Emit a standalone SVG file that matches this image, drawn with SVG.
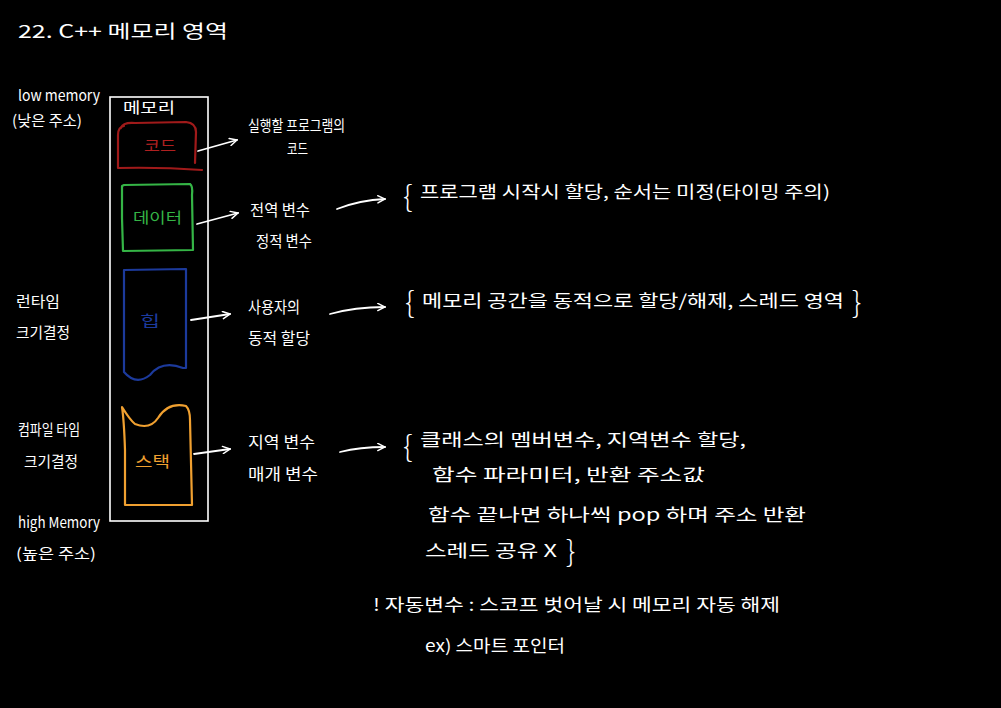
<svg xmlns="http://www.w3.org/2000/svg" width="1001" height="708" viewBox="0 0 1001 708">
<defs>
<style>
text{font-family:"Noto Sans CJK KR","Noto Sans",sans-serif;fill:#fff;font-size:17px}
.t{font-size:18px}
.s{font-size:15px}
.d{font-size:16px}
.br{font-size:30px;font-weight:300}
.ln{fill:none;stroke:#fff;stroke-width:1.8;stroke-linecap:round;stroke-linejoin:round}
.red{fill:none;stroke:#a01a1a;stroke-width:2.2;stroke-linecap:round;stroke-linejoin:round}
.grn{fill:none;stroke:#35b546;stroke-width:2.2;stroke-linecap:round;stroke-linejoin:round}
.blu{fill:none;stroke:#1c3a9c;stroke-width:2.2;stroke-linecap:round;stroke-linejoin:round}
.org{fill:none;stroke:#f0a030;stroke-width:2.2;stroke-linecap:round;stroke-linejoin:round}
</style>
<marker id="ah" viewBox="0 0 10 10" refX="9" refY="5" markerWidth="9" markerHeight="9" orient="auto" markerUnits="userSpaceOnUse">
<polyline points="1,1 9,5 1,9" fill="none" stroke="#fff" stroke-width="1.6" stroke-linecap="round"/>
</marker>
</defs>
<rect width="1001" height="708" fill="#000"/>

<g id="title"><text class="t" x="18" y="38" textLength="210" lengthAdjust="spacingAndGlyphs">22. C++ 메모리 영역</text></g>

<g id="left-labels">
<text class="s" x="18" y="101" textLength="82" lengthAdjust="spacingAndGlyphs">low memory</text>
<text class="s" x="12" y="126" textLength="70" lengthAdjust="spacingAndGlyphs">(낮은 주소)</text>
<text class="s" x="16" y="307" textLength="44" lengthAdjust="spacingAndGlyphs">런타임</text>
<text class="s" x="16" y="338" textLength="54" lengthAdjust="spacingAndGlyphs">크기결정</text>
<text class="s" x="18" y="435" textLength="62" lengthAdjust="spacingAndGlyphs">컴파일 타임</text>
<text class="s" x="24" y="467" textLength="54" lengthAdjust="spacingAndGlyphs">크기결정</text>
<text class="s" x="18" y="528" textLength="82" lengthAdjust="spacingAndGlyphs">high Memory</text>
<text class="s" x="16" y="559" textLength="80" lengthAdjust="spacingAndGlyphs">(높은 주소)</text>
</g>

<g id="memory">
<rect x="110" y="97" width="98" height="424" fill="none" stroke="#fff" stroke-width="1.6"/>
<text class="s" x="123" y="113" textLength="52" lengthAdjust="spacingAndGlyphs">메모리</text>
</g>

<g id="code">
<path class="red" d="M121,128 Q123,122 135,123 L186,122 Q196,123 196,132 L195,163 M118,168 L118,135 Q118,127 124,126 M118,168 Q160,167 202,170"/>
<text class="s" x="144" y="151" style="fill:#b02020" textLength="32" lengthAdjust="spacingAndGlyphs">코드</text>
</g>

<g id="data">
<path class="grn" d="M124,185 L190,184 Q193,186 192,195 L193,250 L123,251 L122,218 L122,186 Z"/>
<text class="s" x="133" y="223" style="fill:#35b546" textLength="49" lengthAdjust="spacingAndGlyphs">데이터</text>
</g>

<g id="heap">
<path class="blu" d="M124,270 L186,269 L186,368 L183,368 Q162,360 150,375 Q136,386 124,372 Z"/>
<text class="s" x="140" y="326" style="fill:#1c3a9c" textLength="20" lengthAdjust="spacingAndGlyphs">힙</text>
</g>

<g id="stack">
<path class="org" d="M122,407 Q130,420 135,424 Q150,430 158,418 Q168,402 186,406 Q190,410 190,420 L192,505 L125,505 L125,450 Q124,420 122,407 Z"/>
<text class="s" x="135" y="467" style="fill:#f0a030" textLength="35" lengthAdjust="spacingAndGlyphs">스택</text>
</g>

<g id="descriptions">
<text class="s" x="248" y="131" textLength="97" lengthAdjust="spacingAndGlyphs">실행할 프로그램의</text>
<text class="s" x="287" y="154" textLength="21" lengthAdjust="spacingAndGlyphs">코드</text>
<text class="d" x="250" y="216" textLength="60" lengthAdjust="spacingAndGlyphs">전역 변수</text>
<text class="d" x="256" y="247" textLength="56" lengthAdjust="spacingAndGlyphs">정적 변수</text>
<text class="d" x="248" y="313" textLength="52" lengthAdjust="spacingAndGlyphs">사용자의</text>
<text class="d" x="248" y="344" textLength="62" lengthAdjust="spacingAndGlyphs">동적 할당</text>
<text class="d" x="248" y="448" textLength="67" lengthAdjust="spacingAndGlyphs">지역 변수</text>
<text class="d" x="248" y="480" textLength="70" lengthAdjust="spacingAndGlyphs">매개 변수</text>
</g>

<g id="notes">
<text class="br" x="403" y="207">{</text>
<text x="420" y="198" textLength="410" lengthAdjust="spacingAndGlyphs">프로그램 시작시 할당, 순서는 미정(타이밍 주의)</text>
<text class="br" x="405" y="313">{</text>
<text x="422" y="307" textLength="422" lengthAdjust="spacingAndGlyphs">메모리 공간을 동적으로 할당/해제, 스레드 영역</text>
<text class="br" x="852" y="313">}</text>
<text class="br" x="403" y="457">{</text>
<text x="420" y="446" textLength="326" lengthAdjust="spacingAndGlyphs">클래스의 멤버변수, 지역변수 할당,</text>
<text x="432" y="481" textLength="273" lengthAdjust="spacingAndGlyphs">함수 파라미터, 반환 주소값</text>
<text x="428" y="521" textLength="378" lengthAdjust="spacingAndGlyphs">함수 끝나면 하나씩 pop 하며 주소 반환</text>
<text x="425" y="557" textLength="132" lengthAdjust="spacingAndGlyphs">스레드 공유 X</text>
<text class="br" x="566" y="562">}</text>
<text x="373" y="611" textLength="407" lengthAdjust="spacingAndGlyphs">! 자동변수 : 스코프 벗어날 시 메모리 자동 해제</text>
<text x="425" y="652" textLength="140" lengthAdjust="spacingAndGlyphs">ex) 스마트 포인터</text>
</g>

<g id="connectors">
<path class="ln" d="M198,151 L237,140" marker-end="url(#ah)"/>
<path class="ln" d="M197,224 L238,213" marker-end="url(#ah)"/>
<path class="ln" d="M191,320 L230,314" marker-end="url(#ah)"/>
<path class="ln" d="M194,454 L230,449" marker-end="url(#ah)"/>
<path class="ln" d="M337,209 Q360,200 385,199" marker-end="url(#ah)"/>
<path class="ln" d="M330,314 Q355,307 385,307" marker-end="url(#ah)"/>
<path class="ln" d="M340,452 Q360,447 385,447" marker-end="url(#ah)"/>
</g>
</svg>
